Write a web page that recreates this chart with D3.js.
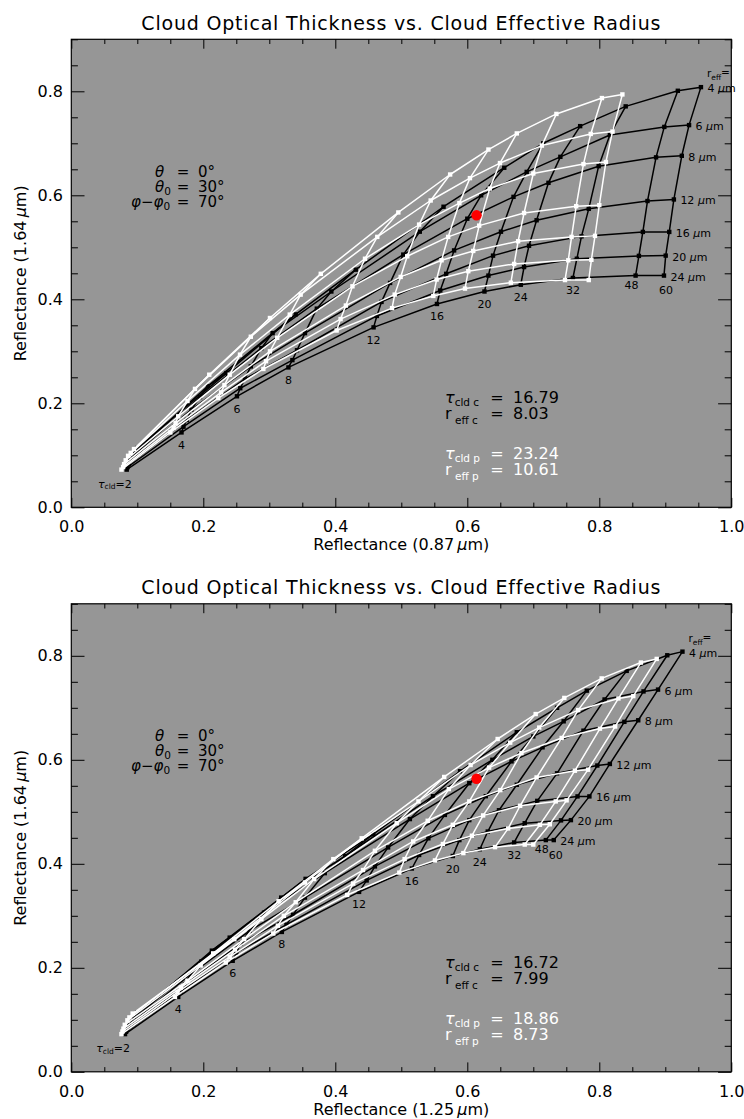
<!DOCTYPE html>
<html><head><meta charset="utf-8">
<script src="https://cdn.jsdelivr.net/npm/d3@7"></script>
<style>
body{margin:0;background:#fff}
svg{display:block}
text{font-family:"DejaVu Sans",sans-serif;fill:#000}
</style>
</head><body>
<svg id="c" width="744" height="1119"></svg>
<script>
// ---------------- data ----------------
const tauValues = [2, 4, 6, 8, 12, 16, 20, 24, 32, 48, 60];
const reffValues = [4, 6, 8, 12, 16, 20, 24];

// Reflectance 1.64 um (rows: r_eff, cols: tau) - black LUT (c)
const blackR164 = [
  [0.114, 0.258, 0.371, 0.457, 0.578, 0.653, 0.700, 0.733, 0.771, 0.801, 0.808],
  [0.106, 0.233, 0.335, 0.415, 0.530, 0.600, 0.645, 0.674, 0.716, 0.7315, 0.735],
  [0.099, 0.212, 0.306, 0.382, 0.486, 0.555, 0.597, 0.624, 0.656, 0.673, 0.676],
  [0.090, 0.188, 0.271, 0.335, 0.4315, 0.494, 0.530, 0.552, 0.574, 0.589, 0.592],
  [0.083, 0.168, 0.247, 0.302, 0.395, 0.449, 0.484, 0.503, 0.521, 0.5296, 0.5296],
  [0.077, 0.155, 0.229, 0.283, 0.368, 0.417, 0.4456, 0.462, 0.478, 0.4835, 0.484],
  [0.0725, 0.144, 0.2135, 0.269, 0.346, 0.391, 0.415, 0.428, 0.441, 0.4456, 0.4456]
];
// Reflectance 0.87 um - black LUT
const blackR087 = [
  [0.100, 0.235, 0.340, 0.431, 0.564, 0.656, 0.715, 0.771, 0.840, 0.919, 0.954],
  [0.096, 0.207, 0.305, 0.394, 0.528, 0.621, 0.690, 0.741, 0.816, 0.8985, 0.936],
  [0.093, 0.195, 0.288, 0.372, 0.503, 0.600, 0.670, 0.723, 0.799, 0.886, 0.925],
  [0.089, 0.182, 0.272, 0.354, 0.483, 0.580, 0.651, 0.705, 0.784, 0.873, 0.913],
  [0.087, 0.175, 0.263, 0.342, 0.470, 0.568, 0.639, 0.6935, 0.773, 0.866, 0.906],
  [0.085, 0.170, 0.256, 0.335, 0.463, 0.559, 0.632, 0.686, 0.766, 0.860, 0.9006],
  [0.084, 0.167, 0.251, 0.329, 0.458, 0.554, 0.626, 0.681, 0.760, 0.855, 0.898]
];
// Reflectance 1.25 um - black LUT
const blackR125 = [
  [0.100, 0.240, 0.355, 0.4576, 0.589, 0.675, 0.736, 0.781, 0.8415, 0.903, 0.926],
  [0.095, 0.213, 0.318, 0.415, 0.548, 0.638, 0.700, 0.746, 0.808, 0.867, 0.889],
  [0.092, 0.197, 0.292, 0.384, 0.513, 0.603, 0.667, 0.714, 0.776, 0.838, 0.859],
  [0.088, 0.181, 0.270, 0.354, 0.480, 0.566, 0.628, 0.675, 0.736, 0.797, 0.816],
  [0.085, 0.172, 0.257, 0.336, 0.460, 0.541, 0.603, 0.648, 0.706, 0.767, 0.785],
  [0.083, 0.166, 0.250, 0.326, 0.4475, 0.527, 0.588, 0.631, 0.687, 0.742, 0.757],
  [0.0814, 0.162, 0.2445, 0.319, 0.436, 0.516, 0.578, 0.619, 0.671, 0.719, 0.731]
];
// white LUT (p)
const whiteR164 = [
  [0.112, 0.255, 0.364, 0.449, 0.567, 0.640, 0.688, 0.719, 0.7565, 0.787, 0.794],
  [0.1046, 0.2277, 0.328, 0.409, 0.520, 0.590, 0.633, 0.662, 0.6956, 0.718, 0.7225],
  [0.099, 0.2044, 0.2936, 0.3706, 0.478, 0.5437, 0.585, 0.613, 0.642, 0.660, 0.664],
  [0.0904, 0.175, 0.255, 0.326, 0.425, 0.4827, 0.520, 0.5417, 0.566, 0.579, 0.581],
  [0.083, 0.162, 0.235, 0.300, 0.388, 0.443, 0.475, 0.493, 0.5116, 0.520, 0.522],
  [0.0775, 0.153, 0.221, 0.281, 0.362, 0.409, 0.438, 0.454, 0.468, 0.475, 0.476],
  [0.0725, 0.144, 0.210, 0.266, 0.340, 0.383, 0.4065, 0.4206, 0.432, 0.437, 0.437]
];
const whiteR087 = [
  [0.095, 0.209, 0.301, 0.378, 0.4955, 0.574, 0.632, 0.675, 0.735, 0.804, 0.835],
  [0.090, 0.1874, 0.272, 0.3475, 0.4636, 0.5445, 0.604, 0.6495, 0.713, 0.787, 0.820],
  [0.086, 0.176, 0.2556, 0.331, 0.445, 0.527, 0.588, 0.634, 0.700, 0.776, 0.810],
  [0.0824, 0.162, 0.240, 0.312, 0.426, 0.509, 0.571, 0.618, 0.686, 0.765, 0.800],
  [0.080, 0.158, 0.232, 0.301, 0.416, 0.499, 0.561, 0.609, 0.677, 0.758, 0.7935],
  [0.0785, 0.155, 0.227, 0.295, 0.408, 0.490, 0.5535, 0.6015, 0.671, 0.753, 0.788],
  [0.076, 0.150, 0.2227, 0.291, 0.402, 0.486, 0.5485, 0.5965, 0.666, 0.748, 0.784]
];
const whiteR125 = [
  [0.093, 0.247, 0.354, 0.440, 0.565, 0.646, 0.7036, 0.747, 0.8036, 0.863, 0.887],
  [0.088, 0.215, 0.314, 0.397, 0.526, 0.605, 0.665, 0.709, 0.768, 0.829, 0.8515],
  [0.085, 0.196, 0.288, 0.368, 0.493, 0.572, 0.633, 0.682, 0.743, 0.801, 0.824],
  [0.081, 0.176, 0.262, 0.340, 0.460, 0.540, 0.603, 0.650, 0.705, 0.763, 0.783],
  [0.079, 0.166, 0.248, 0.322, 0.442, 0.518, 0.578, 0.624, 0.680, 0.734, 0.7505],
  [0.0775, 0.161, 0.240, 0.313, 0.427, 0.505, 0.563, 0.607, 0.662, 0.710, 0.725],
  [0.076, 0.157, 0.234, 0.306, 0.418, 0.497, 0.551, 0.594, 0.642, 0.687, 0.700]
];

const observed087 = [0.614, 0.5615];
const observed125 = [0.614, 0.5635];
const retrievalC087 = [16.79, 8.03];
const retrievalP087 = [23.24, 10.61];
const retrievalC125 = [16.72, 7.99];
const retrievalP125 = [18.86, 8.73];
const xTickLabels = ["0.0", "0.2", "0.4", "0.6", "0.8", "1.0"];
const yTickLabels = ["0.0", "0.2", "0.4", "0.6", "0.8"];
const chartTitle = "Cloud Optical Thickness vs. Cloud Effective Radius";

// ---------------- drawing ----------------
const svg = d3.select("#c");
const PLOT_W = 660, PLOT_H = 468, LEFT = 71.3;
const GRAY = "#969696";
const x = d3.scaleLinear().domain([0, 1]).range([LEFT, LEFT + PLOT_W]);

function rich(g, px, py, segs, opts = {}) {
  const t = g.append("text").attr("x", px).attr("y", py)
    .attr("text-anchor", opts.anchor || "start")
    .style("font-size", (opts.size || 16) + "px")
    .style("fill", opts.fill || "#000");
  if (opts.spacing) t.style("letter-spacing", opts.spacing + "px");
  let base = 0;
  segs.forEach(s => {
    const b = s.base || 0;
    const ts = t.append("tspan").text(s.t).attr("dy", b - base);
    base = b;
    if (s.size) ts.style("font-size", s.size + "px");
    if (s.italic) ts.style("font-style", "italic");
  });
  return t;
}

function drawGrid(g, X, Y, color, y) {
  const line = d3.line().x(d => x(d[0])).y(d => y(d[1]));
  reffValues.forEach((r, i) => {
    g.append("path").attr("d", line(tauValues.map((t, j) => [X[i][j], Y[i][j]])))
      .attr("fill", "none").attr("stroke", color).attr("stroke-width", 1.5).attr("stroke-linejoin", "round");
  });
  tauValues.forEach((t, j) => {
    g.append("path").attr("d", line(reffValues.map((r, i) => [X[i][j], Y[i][j]])))
      .attr("fill", "none").attr("stroke", color).attr("stroke-width", 1.5).attr("stroke-linejoin", "round");
  });
  const nodes = reffValues.flatMap((r, i) => tauValues.map((t, j) => [X[i][j], Y[i][j]]));
  g.selectAll(null).data(nodes).join("rect")
    .attr("x", d => x(d[0]) - 2.2).attr("y", d => y(d[1]) - 2.2)
    .attr("width", 4.4).attr("height", 4.4).attr("fill", color);
}

function drawPanel(top, cfg) {
  const bottom = top + PLOT_H;
  const y = d3.scaleLinear().domain([0, 0.9]).range([bottom, top]);
  const g = svg.append("g");

  g.append("rect").attr("x", x(0)).attr("y", top).attr("width", PLOT_W).attr("height", PLOT_H).attr("fill", GRAY);

  drawGrid(g, cfg.xBlack, blackR164, "#000", y);
  drawGrid(g, cfg.xWhite, whiteR164, "#fff", y);

  // tau labels along the r_eff = 24 curve
  const last = reffValues.length - 1;
  tauValues.forEach((t, j) => {
    const px = x(cfg.xBlack[last][j]), py = y(blackR164[last][j]);
    if (t === 2) {
      rich(g, px + 5, py + 18, [{t: "τ", italic: true}, {t: "cld", size: 7.5, base: 1.5}, {t: "=2", base: 0}], {anchor: "end", size: 11});
    } else {
      let dx = 0, dy = 16.5;
      if (t === 48) { dx = -4; dy = 13; }
      if (t === 60) { dx = 2; dy = 18.5; }
      g.append("text").attr("x", px + dx).attr("y", py + dy).attr("text-anchor", "middle")
        .style("font-size", "11px").text(t);
    }
  });
  // r_eff labels at tau = 60
  const jl = tauValues.length - 1;
  reffValues.forEach((r, i) => {
    const px = x(cfg.xBlack[i][jl]), py = y(blackR164[i][jl]);
    rich(g, px + 6.5, py + 5, [{t: r + " "}, {t: "μ", italic: true}, {t: "m"}], {size: 11});
    if (i === 0) {
      rich(g, px + 6, py - 10, [{t: "r"}, {t: "eff", size: 7.5, base: 3}, {t: "=", base: -1}], {size: 10.5});
    }
  });

  // observed point
  g.append("circle").attr("cx", x(cfg.obs[0])).attr("cy", y(cfg.obs[1])).attr("r", 5.2).attr("fill", "#ff0000");

  // axes
  const xMajor = d3.range(0, 6).map(i => i * 0.2);
  const xMinor = d3.range(0, 21).map(i => i * 0.05).filter((v, i) => i % 4 !== 0);
  const yMajor = d3.range(0, 5).map(i => i * 0.2);
  const yMinor = d3.range(0, 19).map(i => i * 0.05).filter((v, i) => i % 4 !== 0);
  const ax = (axis, tr) => {
    const a = g.append("g").attr("transform", tr).call(axis);
    a.select(".domain").remove();
    a.selectAll("line").attr("stroke", "#000").attr("stroke-width", 1);
    a.selectAll("text").style("font-size", "16px").style("font-family", '"DejaVu Sans", sans-serif').attr("fill", "#000");
    return a;
  };
  ax(d3.axisBottom(x).tickValues(xMajor).tickSizeInner(-9.4).tickSizeOuter(0).tickPadding(13.6)
      .tickFormat((d, i) => xTickLabels[i]), `translate(0,${bottom})`);
  ax(d3.axisBottom(x).tickValues(xMinor).tickSizeInner(-4.7).tickSizeOuter(0).tickFormat(""), `translate(0,${bottom})`);
  ax(d3.axisTop(x).tickValues(xMajor).tickSizeInner(-9.4).tickSizeOuter(0).tickFormat(""), `translate(0,${top})`);
  ax(d3.axisTop(x).tickValues(xMinor).tickSizeInner(-4.7).tickSizeOuter(0).tickFormat(""), `translate(0,${top})`);
  ax(d3.axisLeft(y).tickValues(yMajor).tickSizeInner(-13.2).tickSizeOuter(0).tickPadding(8.3)
      .tickFormat((d, i) => yTickLabels[i]), `translate(${x(0)},0)`);
  ax(d3.axisLeft(y).tickValues(yMinor).tickSizeInner(-6.6).tickSizeOuter(0).tickFormat(""), `translate(${x(0)},0)`);
  ax(d3.axisRight(y).tickValues(yMajor).tickSizeInner(-13.2).tickSizeOuter(0).tickFormat(""), `translate(${x(1)},0)`);
  ax(d3.axisRight(y).tickValues(yMinor).tickSizeInner(-6.6).tickSizeOuter(0).tickFormat(""), `translate(${x(1)},0)`);

  g.append("rect").attr("x", x(0)).attr("y", top).attr("width", PLOT_W).attr("height", PLOT_H)
    .attr("fill", "none").attr("stroke", "#000").attr("stroke-width", 1.2);

  // titles
  g.append("text").attr("x", x(0.5)).attr("y", top - 9.5).attr("text-anchor", "middle")
    .style("font-size", "19px").style("letter-spacing", "0.8px").text(chartTitle);
  rich(g, x(0.5), bottom + 43, [{t: "Reflectance (" + cfg.band + "\u2009"}, {t: "μ", italic: true}, {t: "m)"}], {anchor: "middle", size: 16});
  const yl = rich(g, 0, 0, [{t: "Reflectance (1.64\u2009"}, {t: "μ", italic: true}, {t: "m)"}], {anchor: "middle", size: 16});
  yl.attr("transform", `translate(26,${top + PLOT_H / 2}) rotate(-90)`);

  // geometry annotation
  const gy = [top + 137.5, top + 152.5, top + 167.5];
  rich(g, 155, gy[0], [{t: "θ", italic: true}], {size: 15});
  rich(g, 155, gy[1], [{t: "θ", italic: true}, {t: "0", size: 10.5, base: 3}], {size: 15});
  rich(g, 131, gy[2], [{t: "φ", italic: true}, {t: "−"}, {t: "φ", italic: true}, {t: "0", size: 10.5, base: 3}], {size: 15});
  ["=", "=", "="].forEach((s, i) => g.append("text").attr("x", 183).attr("y", gy[i]).attr("text-anchor", "middle").style("font-size", "15px").text(s));
  ["0°", "30°", "70°"].forEach((s, i) => g.append("text").attr("x", 198).attr("y", gy[i]).style("font-size", "15px").text(s));

  // retrieval results
  const sx = 445;
  const stats = [
    {b: top + 363.7, sym: "τ", sub: "cld c", v: cfg.c[0].toFixed(2), fill: "#000", rs: 3},
    {b: top + 379.7, sym: "r", sub: " eff c", v: cfg.c[1].toFixed(2), fill: "#000", rs: 5},
    {b: top + 419.7, sym: "τ", sub: "cld p", v: cfg.p[0].toFixed(2), fill: "#fff", rs: 3},
    {b: top + 435.7, sym: "r", sub: " eff p", v: cfg.p[1].toFixed(2), fill: "#fff", rs: 5}
  ];
  stats.forEach(s => {
    rich(g, sx, s.b, [{t: s.sym, italic: s.sym === "τ"}, {t: s.sub, size: 10.5, base: s.rs}], {size: 16, fill: s.fill});
    g.append("text").attr("x", 497).attr("y", s.b).attr("text-anchor", "middle").style("font-size", "16px").style("fill", s.fill).text("=");
    g.append("text").attr("x", 513).attr("y", s.b).style("font-size", "16px").style("fill", s.fill).text(s.v);
  });
}

drawPanel(39.3, {xBlack: blackR087, xWhite: whiteR087, obs: observed087, band: "0.87", c: retrievalC087, p: retrievalP087});
drawPanel(603.8, {xBlack: blackR125, xWhite: whiteR125, obs: observed125, band: "1.25", c: retrievalC125, p: retrievalP125});
</script>
</body></html>
